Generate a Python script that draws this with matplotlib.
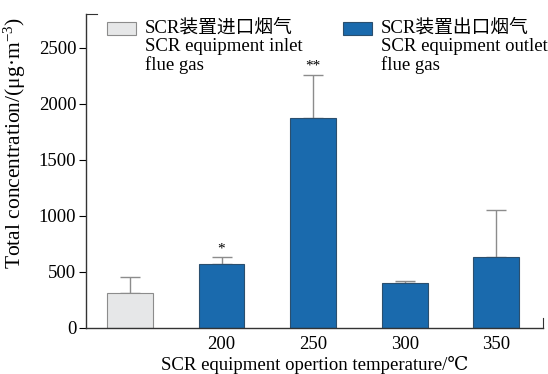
import matplotlib
matplotlib.use("Agg")
import matplotlib.pyplot as plt
from matplotlib.patches import Rectangle

plt.rcParams['font.family'] = ['Liberation Serif', 'DejaVu Serif', 'Noto Sans CJK SC', 'DejaVu Sans']
plt.rcParams['mathtext.fontset'] = 'custom'
plt.rcParams['mathtext.rm'] = 'Liberation Serif'
plt.rcParams['mathtext.it'] = 'Liberation Serif:italic'

categories = ["", "200", "250", "300", "350"]
values = [312, 571, 1875, 402, 634]
errors = [143, 63, 384, 18, 420]
is_inlet = [True, False, False, False, False]
stars = ["", "*", "**", "", ""]
legend_labels = ["SCR装置进口烟气\nSCR equipment inlet\nflue gas",
                 "SCR装置出口烟气\nSCR equipment outlet\nflue gas"]
yticks = [0, 500, 1000, 1500, 2000, 2500]

inlet_color = "#e6e7e8"
inlet_edge = "#8c8c8c"
outlet_color = "#1a6aad"
outlet_edge = "#2b4f6e"

fig = plt.figure(figsize=(5.48, 3.74), dpi=100)
ax = fig.add_axes([86/548, 1-328/374, (543-86)/548, (328-14)/374])

x = list(range(len(categories)))
fc = [inlet_color if i else outlet_color for i in is_inlet]
ec = [inlet_edge if i else outlet_edge for i in is_inlet]
ax.bar(x, values, width=0.5, color=fc, edgecolor=ec, linewidth=0.8, zorder=2)
ax.errorbar(x, values, yerr=[[0]*len(values), errors], fmt='none',
            ecolor="#8c8c8c", elinewidth=1.0, capsize=7, capthick=1.0, zorder=1)
for xi, v, e, s in zip(x, values, errors, stars):
    if s:
        ax.text(xi, v + e + 15, s, ha='center', va='bottom', fontsize=11)

ax.set_xlim(-0.48, 4.51)
ax.set_ylim(0, 2800)
ax.set_yticks(yticks)
ax.set_xticks(x[1:])
ax.set_xticklabels(categories[1:])
ax.tick_params(axis='x', length=0, labelsize=13.5, pad=6)
ax.tick_params(axis='y', direction='out', length=5, labelsize=13.5, pad=2)
for side in ['left', 'bottom']:
    ax.spines[side].set_color("#333333")
    ax.spines[side].set_linewidth(1.0)
ax.spines['right'].set_bounds(0, 90)
ax.spines['right'].set_color("#333333")
ax.spines['top'].set_bounds(-0.48, -0.36)
ax.spines['top'].set_color("#333333")

ax.set_xlabel("SCR equipment opertion temperature/℃", fontsize=13.5, labelpad=2)
ax.set_ylabel(r"Total concentration/(μg·m$^{-3}$)", fontsize=15.5)
ax.yaxis.set_label_coords(-0.128, 0.59)

# legend drawn manually
leg = [(107, 145, inlet_color, inlet_edge), (343, 381, outlet_color, outlet_edge)]
for (px, tx, c, e), lab in zip(leg, legend_labels):
    fig.patches.append(Rectangle((px/548, 1-35/374), 29/548, 13/374,
                                 transform=fig.transFigure, facecolor=c,
                                 edgecolor=e, linewidth=0.8))
    fig.text(tx/548, 1-19/374, lab, ha='left', va='top', fontsize=13.5,
             linespacing=1.08)

fig.savefig("out.png", dpi=100)
